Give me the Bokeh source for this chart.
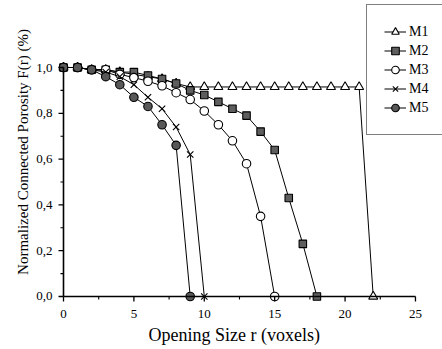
import math
from bokeh.plotting import figure
from bokeh.models import (Range1d, FixedTicker, CustomJSTickFormatter, Legend,
                          LegendItem, Title)
from bokeh.embed import file_html
from bokeh.resources import INLINE

# ---- data ----
r_m1 = list(range(0, 23))
f_m1 = [1.0, 1.0, 0.99, 0.99, 0.98, 0.97, 0.96, 0.95, 0.93, 0.915, 0.915, 0.915,
        0.915, 0.915, 0.915, 0.915, 0.915, 0.915, 0.915, 0.915, 0.915, 0.915, 0.0]

r_m2 = list(range(0, 19))
f_m2 = [1.0, 1.0, 0.99, 0.99, 0.98, 0.98, 0.965, 0.95, 0.93, 0.90, 0.88, 0.85,
        0.82, 0.79, 0.72, 0.64, 0.43, 0.23, 0.0]

r_m3 = list(range(0, 16))
f_m3 = [1.0, 1.0, 0.99, 0.99, 0.97, 0.956, 0.94, 0.92, 0.89, 0.86, 0.81, 0.75,
        0.68, 0.58, 0.35, 0.0]

r_m4 = list(range(0, 11))
f_m4 = [1.0, 1.0, 0.99, 0.98, 0.96, 0.925, 0.87, 0.82, 0.74, 0.62, 0.0]

r_m5 = list(range(0, 10))
f_m5 = [1.0, 1.0, 0.99, 0.96, 0.925, 0.87, 0.83, 0.75, 0.66, 0.0]

series_names = ["M1", "M2", "M3", "M4", "M5"]
x_ticks = [0, 5, 10, 15, 20, 25]
x_minor = [2.5, 7.5, 12.5, 17.5, 22.5]
y_ticks = [0.0, 0.2, 0.4, 0.6, 0.8, 1.0]
y_minor = [0.1, 0.3, 0.5, 0.7, 0.9]
x_title = "Opening Size r  (voxels)"
y_title = "Normalized Connected Porosity F(r) (%)"

FONT = "Liberation Serif"

# frame geometry: left 56 px, right 442 px, top 0 px, bottom 303 px
X0, X1 = -0.497, 26.92
Y0, Y1 = -0.0306, 1.2926
FRAME_W, FRAME_H = 386, 303
px_x = (X1 - X0) / FRAME_W      # data units per pixel (x)
px_y = (Y1 - Y0) / FRAME_H      # data units per pixel (y)

p = figure(width=442, height=349, output_backend="svg", toolbar_location=None,
           x_range=Range1d(X0, X1), y_range=Range1d(Y0, Y1),
           min_border_left=56, min_border_right=0, min_border_top=0,
           min_border_bottom=46)
p.outline_line_color = None
p.grid.visible = False
p.background_fill_color = "white"
p.border_fill_color = "white"

styles = [
    dict(marker="triangle", size=9, fill_color="white"),
    dict(marker="square", size=7.5, fill_color="#5e5e5e"),
    dict(marker="circle", size=8.5, fill_color="white"),
    dict(marker="x", size=9, fill_color="white"),
    dict(marker="circle", size=8.5, fill_color="#585858"),
]
data = [(r_m1, f_m1), (r_m2, f_m2), (r_m3, f_m3), (r_m4, f_m4), (r_m5, f_m5)]

items = []
for name, (xs, ys), st in zip(series_names, data, styles):
    lr = p.line(xs, ys, line_color="black", line_width=1)
    sr = p.scatter(xs, ys, marker=st["marker"], size=st["size"],
                   fill_color=st["fill_color"], line_color="black",
                   line_width=1.1)
    items.append(LegendItem(label=name, renderers=[lr, sr]))

# axis rules and tick marks at the data origin, drawn with line glyphs
x_lo, x_hi = x_ticks[0], x_ticks[-1]
y_lo, y_hi = y_ticks[0], y_ticks[-1]
p.line([x_lo, x_hi], [y_lo, y_lo], line_color="black", line_width=1.6)
p.line([x_lo, x_lo], [y_lo, y_hi], line_color="black", line_width=1.6)
for t in x_ticks:
    p.line([t, t], [y_lo, y_lo - 5 * px_y], line_color="black", line_width=1.3)
for t in x_minor:
    p.line([t, t], [y_lo, y_lo - 3 * px_y], line_color="black", line_width=1.1)
for t in y_ticks:
    p.line([x_lo, x_lo - 5 * px_x], [t, t], line_color="black", line_width=1.3)
for t in y_minor:
    p.line([x_lo, x_lo - 3 * px_x], [t, t], line_color="black", line_width=1.1)

# axes: tick labels only
xa = p.xaxis[0]
ya = p.yaxis[0]
xa.ticker = FixedTicker(ticks=x_ticks, minor_ticks=x_minor)
ya.ticker = FixedTicker(ticks=y_ticks, minor_ticks=y_minor)
ya.formatter = CustomJSTickFormatter(code="return tick.toFixed(1).replace('.', ',');")
for ax in (xa, ya):
    ax.axis_line_color = None
    ax.major_tick_line_color = None
    ax.minor_tick_line_color = None
    ax.major_tick_in = 0
    ax.major_tick_out = 0
    ax.minor_tick_in = 0
    ax.minor_tick_out = 0
    ax.major_label_text_font = FONT
    ax.major_label_text_font_size = "13px"
    ax.major_label_text_color = "black"
xa.major_label_standoff = 6
ya.major_label_standoff = 4

# axis titles
p.add_layout(Title(text=x_title, align="left", offset=92, standoff=4,
                   text_font=FONT, text_font_size="18px",
                   text_font_style="normal", text_color="black"), "below")
p.add_layout(Title(text=y_title, align="center", offset=-15, standoff=6,
                   text_font=FONT, text_font_size="15px",
                   text_font_style="normal", text_color="black"), "left")

legend = Legend(items=items, location=(310, 168), padding=17, spacing=0,
                glyph_height=19, label_height=19, glyph_width=22,
                label_width=60, label_standoff=3, border_line_color="black",
                border_line_width=1.5, background_fill_color="white",
                background_fill_alpha=1, label_text_font=FONT,
                label_text_font_size="14px", label_text_color="black",
                margin=0)
p.add_layout(legend, "center")

open("out.html", "w").write(file_html(p, INLINE))
